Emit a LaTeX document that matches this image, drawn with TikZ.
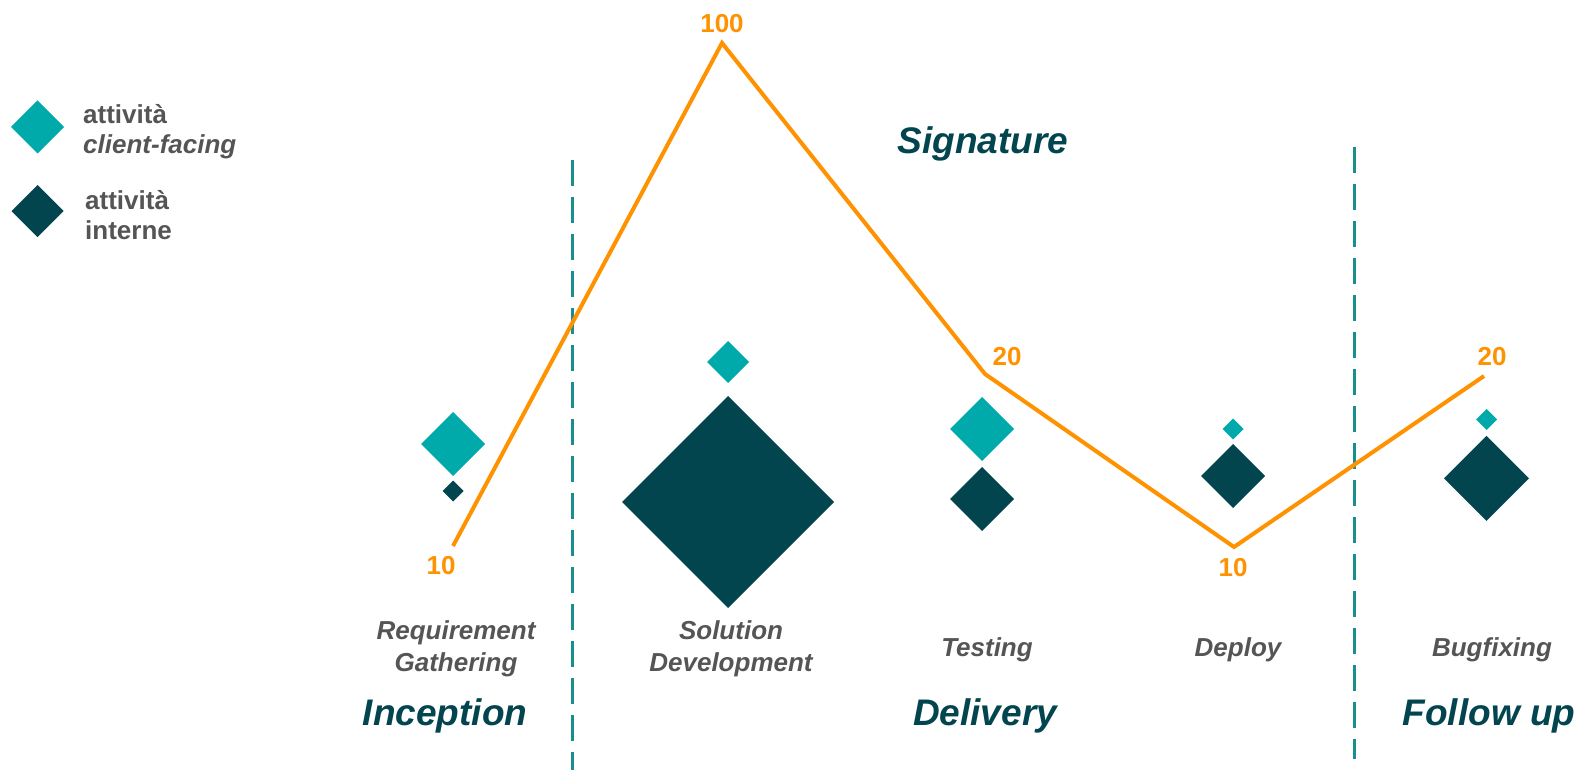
\documentclass[tikz,border=0pt]{standalone}
\usepackage{fontspec}
\setmainfont{Liberation Sans}
\usepackage{tikz}
\usetikzlibrary{shapes.geometric,positioning}
\definecolor{tealA}{RGB}{0,170,170}
\definecolor{darkA}{RGB}{2,69,79}
\definecolor{dashA}{RGB}{26,142,142}
\definecolor{orangeA}{RGB}{255,146,0}
\definecolor{grayA}{RGB}{85,85,85}
\tikzstyle{client} = [diamond, fill=tealA, inner sep=0pt, outer sep=0pt]
\tikzstyle{intern} = [diamond, fill=darkA, inner sep=0pt, outer sep=0pt]
\tikzstyle{trend} = [draw=orangeA, line width=4pt, line join=miter]
\tikzstyle{phase} = [draw=dashA, line width=3pt, dash pattern=on 26pt off 11pt]
\tikzstyle{val} = [text=orangeA, inner sep=0pt, font=\bfseries\fontsize{26}{30}\selectfont]
\tikzstyle{task} = [text=grayA, inner sep=0pt, align=center, font=\bfseries\itshape\fontsize{26}{32}\selectfont]
\tikzstyle{stage} = [text=darkA, inner sep=0pt, font=\bfseries\itshape\fontsize{37}{44}\selectfont]
\tikzstyle{legend} = [text=grayA, inner sep=0pt, align=left, font=\bfseries\fontsize{26}{30}\selectfont]

\begin{document}
\begin{tikzpicture}[x=1pt,y=-1pt]
	\useasboundingbox (0,0) rectangle (1578,770);
	% legend
	\node (leg-c) [client, minimum size=53pt] at (37.5,127) {};
	\node (leg-i) [intern, minimum size=52pt] at (37.5,211) {};
	\node (leg-ct) [legend, anchor=west] at (83,131.5) {attività\\\textit{client-facing}};
	\node (leg-it) [legend, anchor=west] at (85,215.5) {attività\\interne};
	% phase separators
	\coordinate (sep1-t) at (572,160);
	\coordinate (sep1-b) at (572,770);
	\coordinate (sep2-t) at (1354,147);
	\coordinate (sep2-b) at (1354,759);
	\draw[phase] (sep1-t) -- (sep1-b);
	\draw[phase] (sep2-t) -- (sep2-b);
	% activities
	\node (req-c) [client, minimum size=64pt] at (453,444) {};
	\node (req-i) [intern, minimum size=21pt] at (453,491) {};
	\node (sol-c) [client, minimum size=42pt] at (728,362) {};
	\node (sol-i) [intern, minimum size=212pt] at (728,502) {};
	\node (tst-c) [client, minimum size=64pt] at (982,429) {};
	\node (tst-i) [intern, minimum size=64pt] at (982,499) {};
	\node (dep-c) [client, minimum size=21pt] at (1233,429) {};
	\node (dep-i) [intern, minimum size=64pt] at (1233,476) {};
	\node (bug-c) [client, minimum size=21pt] at (1486.5,419.5) {};
	\node (bug-i) [intern, minimum size=85pt] at (1486.5,478.3) {};
	% effort line
	\coordinate (eff-req) at (453,546);
	\coordinate (eff-sol) at (722,43);
	\coordinate (eff-tst) at (985,374);
	\coordinate (eff-dep) at (1234,547);
	\coordinate (eff-bug) at (1484,376);
	\draw[trend] (eff-req) -- (eff-sol) -- (eff-tst) -- (eff-dep) -- (eff-bug);
	\node (v-req) [val] at (441,566) {10};
	\node (v-sol) [val] at (722,24) {100};
	\node (v-tst) [val] at (1007,357) {20};
	\node (v-dep) [val] at (1233,568) {10};
	\node (v-bug) [val] at (1492,357) {20};
	% labels
	\node (t-req) [task] at (456,649) {Requirement\\Gathering};
	\node (t-sol) [task] at (731,649) {Solution\\Development};
	\node (t-tst) [task] at (987,650) {Testing};
	\node (t-dep) [task] at (1238,650) {Deploy};
	\node (t-bug) [task] at (1492,650) {Bugfixing};
	\node (s-inc) [stage] at (445,716) {Inception};
	\node (s-del) [stage] at (985,716) {Delivery};
	\node (s-fol) [stage] at (1489,716) {Follow up};
	\node (s-sig) [stage] at (983,144) {Signature};
\end{tikzpicture}
\end{document}
